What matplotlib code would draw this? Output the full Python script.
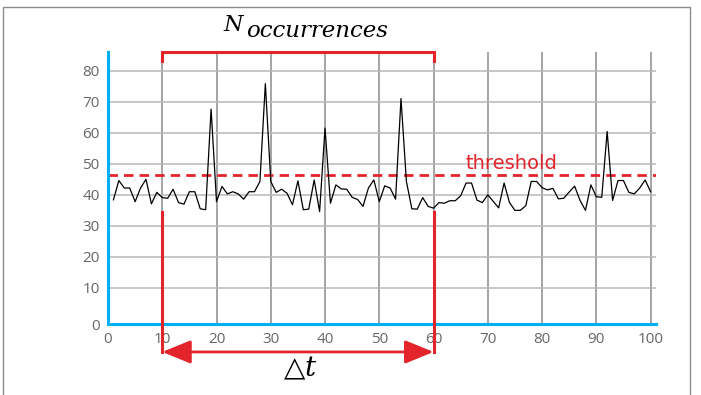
import numpy as np
import matplotlib.pyplot as plt
from matplotlib.patches import Rectangle

# series
x = np.arange(1, 101)
y = [38.4, 44.6, 42.2, 42.2, 37.8, 42.2, 45.0, 37.1, 40.8, 39.1,
     38.9, 41.8, 37.5, 37.0, 41.0, 41.0, 35.5, 35.2, 67.6, 37.8,
     42.7, 40.3, 41.0, 40.3, 38.6, 41.0, 41.0, 44.3, 75.8, 44.3,
     40.8, 41.8, 40.5, 36.8, 44.5, 35.2, 35.4, 44.8, 34.6, 61.5,
     37.3, 43.2, 41.9, 41.8, 39.2, 38.5, 36.3, 42.2, 44.8, 37.8,
     42.9, 42.2, 38.6, 71.0, 44.3, 35.5, 35.4, 39.1, 36.3, 35.7,
     37.5, 37.3, 38.1, 38.1, 39.7, 43.8, 43.8, 38.3, 37.5, 40.0,
     37.9, 35.8, 43.8, 37.5, 35.0, 35.0, 36.5, 44.3, 44.3, 42.3,
     41.6, 42.1, 38.7, 38.9, 40.9, 42.8, 38.2, 35.0, 43.2, 39.4,
     39.2, 60.4, 38.2, 44.6, 44.6, 40.8, 40.3, 42.2, 44.8, 41.0]
threshold = 46.5
t_start, t_end = 10, 60
xticks = list(range(0, 101, 10))
ylevels = list(range(10, 81, 10))
ylabels = ['0'] + [str(v) for v in ylevels]

red = '#e3242b'
blue = '#00b0f0'
grey_txt = '#666666'
plt.rcParams['mathtext.fontset'] = 'dejavuserif'

fig = plt.figure(figsize=(7.01, 3.95), dpi=100)
ax = fig.add_axes([108/701, 1 - 324/395, (656 - 108)/701, (324 - 52)/395])
ybot, ytop = -1.6, 86
ax.set_xlim(0, 101)
ax.set_ylim(ybot, ytop)

ax.set_xticks(xticks)
ax.set_yticks([ybot] + ylevels)
ax.set_yticklabels(ylabels)
ax.tick_params(length=0, labelcolor=grey_txt, labelsize=11)
ax.tick_params(axis='x', pad=6)
ax.tick_params(axis='y', pad=6)
for lab in ax.get_xticklabels() + ax.get_yticklabels():
    lab.set_family('Open Sans')

ax.grid(axis='x', color='#8c8c8c', lw=1.1, zorder=1)
ax.grid(axis='y', color='#b8b8b8', lw=1.1, zorder=1)
ax.set_axisbelow(True)

for s in ['top', 'right']:
    ax.spines[s].set_visible(False)
for s in ['left', 'bottom']:
    ax.spines[s].set_color(blue)
    ax.spines[s].set_linewidth(2.2)

ax.plot(x, y, color='black', lw=0.9, zorder=3)
ax.axhline(threshold, color=red, lw=2, ls=(0, (3.4, 2.2)), zorder=2)
ax.text(74.4, threshold + 0.6, 'threshold', color=red, fontsize=14,
        ha='center', va='bottom', family='DejaVu Sans')

# delta t marker
ylow = -10.6
for t in (t_start, t_end):
    ax.plot([t, t], [34.5, ylow], color=red, lw=2.2, clip_on=False, zorder=4)
ax.annotate('', xy=(t_start, ylow), xytext=(t_end, ylow),
            arrowprops=dict(arrowstyle='<|-|>,head_length=1.1,head_width=0.45',
                            color=red, lw=2, mutation_scale=16,
                            shrinkA=0, shrinkB=0),
            annotation_clip=False)
ax.text(35.4, -16, r'$\bigtriangleup t$', ha='center', va='center', fontsize=20)

# occurrences bracket
ax.plot([t_start, t_start, t_end, t_end], [83, ytop, ytop, 83], color=red, lw=2.2,
        clip_on=False, solid_joinstyle='miter', zorder=4)
fig.text(223/701, 1 - 31/395, 'N', fontsize=16, family='DejaVu Serif',
         style='italic', va='baseline')
fig.text(246/701, 1 - 37/395, 'occurrences', fontsize=16.5, family='DejaVu Serif',
         style='italic', va='baseline')

fig.add_artist(Rectangle((3/701, -0.02), (690 - 3)/701, 1 - 7/395 + 0.02,
                         transform=fig.transFigure, fill=False,
                         ec='#8c8c8c', lw=1))

fig.savefig('out.png', dpi=100)
